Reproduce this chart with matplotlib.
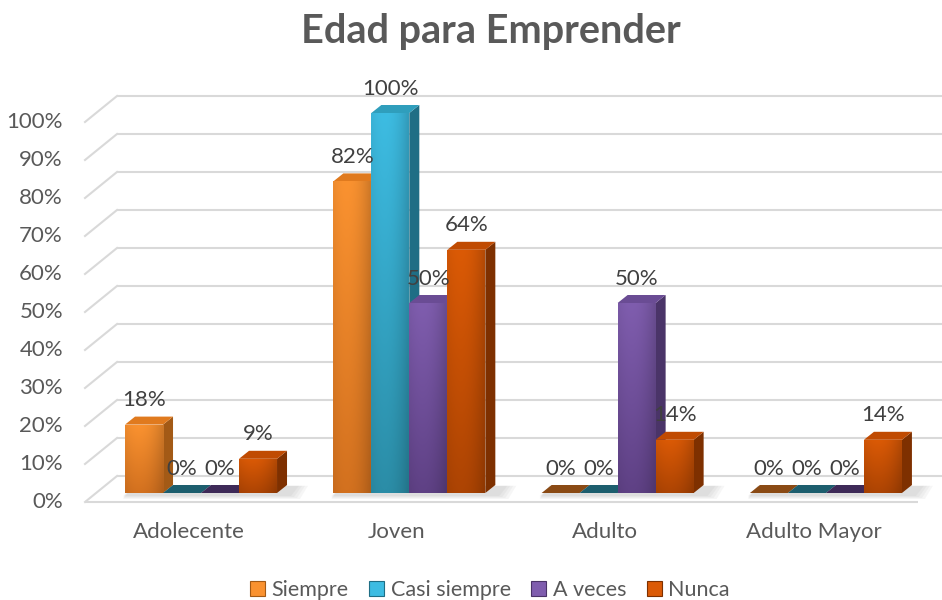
import numpy as np
import matplotlib
matplotlib.use("Agg")
import matplotlib.pyplot as plt
from matplotlib.patches import Polygon
from matplotlib.colors import to_rgb
import matplotlib.transforms as mtransforms

# ---------------- data ----------------
categories = ["Adolecente", "Joven", "Adulto", "Adulto Mayor"]
series = ["Siempre", "Casi siempre", "A veces", "Nunca"]
siempre = [0.18, 0.82, 0.00, 0.00]
casi_siempre = [0.00, 1.00, 0.00, 0.00]
a_veces = [0.00, 0.50, 0.50, 0.00]
nunca = [0.09, 0.64, 0.14, 0.14]
values = [siempre, casi_siempre, a_veces, nunca]
yticks = [0, 0.1, 0.2, 0.3, 0.4, 0.5, 0.6, 0.7, 0.8, 0.9, 1.0]
ytick_labels = ["0%", "10%", "20%", "30%", "40%", "50%", "60%", "70%", "80%", "90%", "100%"]
title = "Edad para Emprender"

# ---------------- style ----------------
front_top = ["#FA9230", "#3DBCE2", "#7F5DAE", "#DB5A06"]
front_bot = ["#D3711F", "#2B8DA7", "#5F4185", "#AD4403"]
side_col = ["#A35A16", "#1F6E85", "#4A3468", "#7E3000"]
top_col = ["#E07A1E", "#2F9EBC", "#6A4C94", "#C04B02"]
zero_col = ["#8A4A14", "#1D5E6E", "#3E2A58", "#8A3A05"]
grid_col = "#D9D9D9"
txt_col = "#595959"
lbl_col = "#404040"
FONT = "Lato"
FS = 16

W, H, DPI = 942, 600, 100
fig = plt.figure(figsize=(W / DPI, H / DPI), dpi=DPI)

# axes = front plane of the bars
left_px, right_px = 85, 918
bot_px, top_px = 493, 113
ax = fig.add_axes([left_px / W, 1 - bot_px / H, (right_px - left_px) / W, (bot_px - top_px) / H])
xmin, xmax = -0.557, 3.442
ax.set_xlim(xmin, xmax)
ax.set_ylim(0, 1.0)
ax.axis("off")

px_x = (right_px - left_px) / (xmax - xmin)  # pixels per x data unit
px_y = (bot_px - top_px) / 1.0               # pixels per y data unit

# perspective offsets (pixels)
dx_px, dy_px = 10, 8
ddx, ddy = dx_px / px_x, dy_px / px_y

# ---------- back wall gridlines and side wall diagonals ----------
ytrans = ax.get_yaxis_transform()
back_x0 = (117 - left_px) / (right_px - left_px)
back_x1 = (945 - left_px) / (right_px - left_px)
label_x = (63 - left_px) / (right_px - left_px)
front_x = 0.0
up = mtransforms.ScaledTranslation(0, 17 / DPI, fig.dpi_scale_trans)
down = mtransforms.ScaledTranslation(0, -9 / DPI, fig.dpi_scale_trans)
for v, lab in zip(yticks, ytick_labels):
    ax.plot([back_x0, back_x1], [v, v], color=grid_col, lw=1.5, transform=ytrans + up,
            clip_on=False, zorder=0, solid_capstyle="butt")
    p_front = (ytrans + down).transform((front_x, v))
    p_back = (ytrans + up).transform((back_x0, v))
    ax.plot([p_front[0], p_back[0]], [p_front[1], p_back[1]], color=grid_col, lw=1.5,
            transform=None, clip_on=False, zorder=0)
    ax.text(label_x, v, lab, transform=ytrans + down, ha="right", va="center",
            fontsize=FS, color=txt_col, family=FONT, clip_on=False)

# floor front edge
ax.plot([0, 1.0], [0, 0], color=grid_col, lw=1.5, transform=ytrans + down, clip_on=False,
        zorder=0, solid_capstyle="butt")

# ---------------- bars ----------------
n = len(series)
bw = 38 / px_x
x = np.arange(len(categories))

# soft shadows under each group
for i in range(len(categories)):
    gx0 = x[i] - 2 * bw
    gx1 = x[i] + 2 * bw
    for k in range(4):
        grow = k * 3 / px_x
        shadow = Polygon([(gx0 - 2 / px_x, -3 / px_y - k * 1 / px_y),
                          (gx1 + 14 / px_x + grow, -3 / px_y - k * 1 / px_y),
                          (gx1 + 22 / px_x + grow, ddy * 0.9),
                          (gx0 + 8 / px_x, ddy * 0.9)],
                         closed=True, facecolor="#404040", edgecolor="none", alpha=0.045,
                         zorder=1, clip_on=False)
        ax.add_patch(shadow)

zo = 2
for i in range(len(categories)):
    for s in range(n):
        v = values[s][i]
        x0 = x[i] + (s - 2) * bw
        x1 = x0 + bw
        if v <= 0:
            tile = Polygon([(x0, 0), (x1, 0), (x1 + ddx, ddy), (x0 + ddx, ddy)], closed=True,
                           facecolor=zero_col[s], edgecolor="none", zorder=zo, clip_on=False)
            ax.add_patch(tile)
            zo += 1
        else:
            side = Polygon([(x1, 0), (x1 + ddx, ddy), (x1 + ddx, v + ddy), (x1, v)], closed=True,
                           facecolor=side_col[s], edgecolor="none", zorder=zo, clip_on=False)
            ax.add_patch(side)
            topf = Polygon([(x0, v), (x1, v), (x1 + ddx, v + ddy), (x0 + ddx, v + ddy)], closed=True,
                           facecolor=top_col[s], edgecolor="none", zorder=zo, clip_on=False)
            ax.add_patch(topf)
            bar = ax.bar(x0, v, width=bw, align="edge", color=front_top[s], edgecolor="none",
                         zorder=zo + 1)[0]
            c1 = np.array(to_rgb(front_top[s]))
            c2 = np.array(to_rgb(front_bot[s]))
            t = np.linspace(0, 1, 64)[:, None]
            grad = (c1[None, :] * (1 - t) + c2[None, :] * t)[:, None, :]
            hx = np.linspace(0, 1, 16)
            hshade = 1.0 - 0.10 * (hx - 0.35) ** 2 * 4
            grad = np.clip(grad * hshade[None, :, None], 0, 1)
            im = ax.imshow(grad, extent=[x0, x1, 0, v], aspect="auto", origin="upper",
                           zorder=zo + 1.5, interpolation="bilinear")
            im.set_clip_path(bar)
            zo += 2
        ax.annotate(f"{v:.0%}", xy=(x0 + bw / 2, v), xytext=(0, 17.5), textcoords="offset points",
                    ha="center", va="center", fontsize=FS, color=lbl_col, family=FONT,
                    zorder=100, annotation_clip=False)

ax.set_xlim(xmin, xmax)
ax.set_ylim(0, 1.0)

# category labels (shifted left slightly for perspective)
for i, c in enumerate(categories):
    ax.annotate(c, xy=(x[i], 0), xytext=(-9, -28), textcoords="offset points",
                ha="center", va="center", fontsize=FS, color=txt_col, family=FONT,
                annotation_clip=False)

# title
fig.text(491 / W, 1 - 31 / H, title, ha="center", va="center", fontsize=28.5,
         fontweight="bold", color=txt_col, family=FONT)

# legend
handles = [plt.Rectangle((0, 0), 1, 1, facecolor=front_top[s], edgecolor=side_col[s], lw=0.8)
           for s in range(n)]
fig.legend(handles, series, loc="center", bbox_to_anchor=(490 / W, 1 - 590 / H), ncol=4,
           frameon=False, prop={"family": FONT, "size": 15.5}, labelcolor=txt_col,
           handlelength=0.7, handleheight=0.7, handletextpad=0.3, columnspacing=0.95)

fig.savefig("out.png", dpi=DPI, facecolor="white")
